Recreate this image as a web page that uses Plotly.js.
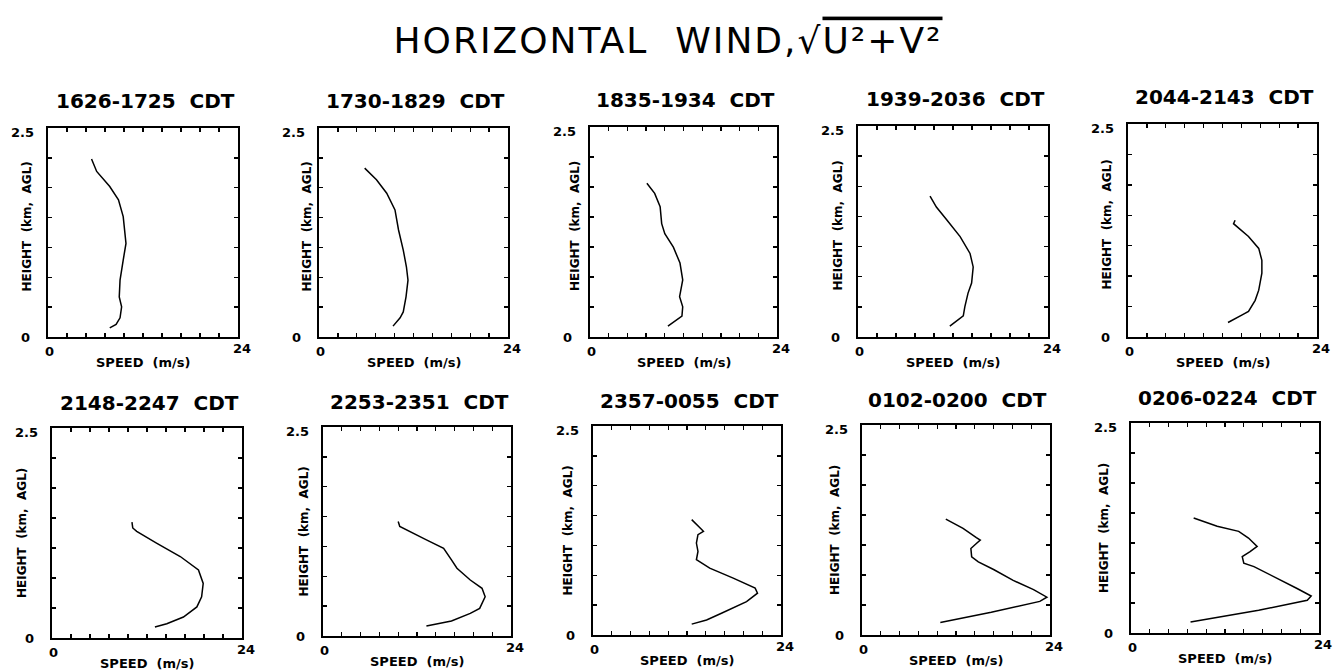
<!DOCTYPE html>
<html>
<head>
<meta charset="utf-8">
<script src="https://cdn.plot.ly/plotly-3.0.1.min.js"></script>
<style>
  html, body { margin: 0; padding: 0; background: #fff; }
  #chart { width: 1337px; height: 672px; }
</style>
</head>
<body>
<div id="chart"></div>
<script>
// Horizontal wind speed profiles, one panel per hourly period
const periods = ["1626-1725", "1730-1829", "1835-1934", "1939-2036", "2044-2143",
                 "2148-2247", "2253-2351", "2357-0055", "0102-0200", "0206-0224"];

// speed (m/s) and height (km AGL), listed from the lowest gate upward
const speed_1626 = [7.8, 8.6, 9.1, 9.3, 9.0, 9.1, 9.5, 9.85, 9.5, 8.9, 7.8, 6.15, 5.5];
const height_1626 = [0.11, 0.15, 0.23, 0.36, 0.48, 0.68, 0.92, 1.12, 1.44, 1.64, 1.80, 1.98, 2.13];

const speed_1730 = [9.4, 10.3, 10.7, 11.05, 11.3, 11.1, 10.7, 10.1, 9.65, 8.6, 7.3, 5.8];
const height_1730 = [0.13, 0.23, 0.30, 0.48, 0.68, 0.84, 1.04, 1.28, 1.52, 1.72, 1.88, 2.02];

const speed_1835 = [10.0, 11.0, 11.8, 11.9, 11.5, 11.9, 11.55, 10.7, 9.6, 9.2, 9.0, 8.3, 7.3];
const height_1835 = [0.13, 0.20, 0.25, 0.36, 0.48, 0.68, 0.88, 1.07, 1.23, 1.35, 1.55, 1.71, 1.83];

const speed_1939 = [11.6, 12.6, 13.3, 13.5, 13.9, 14.35, 14.55, 14.15, 12.9, 11.2, 9.9, 9.1];
const height_1939 = [0.13, 0.20, 0.25, 0.36, 0.52, 0.64, 0.83, 0.99, 1.19, 1.39, 1.54, 1.67];

const speed_2044 = [12.7, 13.6, 14.5, 15.3, 16.15, 16.6, 17.0, 17.0, 16.6, 15.3, 13.85, 13.4, 13.6];
const height_2044 = [0.17, 0.22, 0.26, 0.30, 0.43, 0.55, 0.75, 0.90, 1.04, 1.18, 1.29, 1.33, 1.37];

const speed_2148 = [13.0, 14.5, 16.6, 18.3, 18.9, 19.1, 18.5, 16.2, 13.2, 10.7, 10.2, 10.1];
const height_2148 = [0.13, 0.17, 0.25, 0.37, 0.49, 0.65, 0.81, 0.97, 1.13, 1.27, 1.31, 1.38];

const speed_2253 = [13.2, 16.4, 18.8, 20.0, 20.7, 20.3, 18.8, 17.1, 16.4, 15.4, 13.2, 11.1, 9.8, 9.6];
const height_2253 = [0.12, 0.18, 0.27, 0.33, 0.47, 0.57, 0.67, 0.81, 0.91, 1.05, 1.15, 1.25, 1.31, 1.37];

const speed_2357 = [12.6, 14.5, 16.4, 19.6, 21.0, 20.7, 17.9, 14.9, 13.2, 13.4, 13.2, 13.4, 14.1, 13.9, 13.0, 12.6];
const height_2357 = [0.13, 0.18, 0.26, 0.40, 0.50, 0.56, 0.68, 0.80, 0.90, 1.00, 1.10, 1.20, 1.24, 1.26, 1.34, 1.38];

const speed_0102 = [10.0, 16.5, 22.7, 23.6, 21.9, 19.3, 16.8, 14.85, 14.0, 13.9, 14.6, 15.1, 14.6, 12.9, 10.7];
const height_0102 = [0.15, 0.27, 0.40, 0.45, 0.54, 0.65, 0.78, 0.87, 0.93, 1.03, 1.09, 1.13, 1.16, 1.27, 1.38];

const speed_0206 = [7.6, 16.3, 22.5, 23.0, 21.2, 18.2, 15.7, 14.4, 14.2, 15.2, 16.1, 15.0, 13.75, 11.0, 8.0];
const height_0206 = [0.13, 0.27, 0.39, 0.44, 0.53, 0.67, 0.79, 0.83, 0.91, 0.97, 1.03, 1.13, 1.21, 1.27, 1.37];

const speedSeries = [speed_1626, speed_1730, speed_1835, speed_1939, speed_2044,
                     speed_2148, speed_2253, speed_2357, speed_0102, speed_0206];
const heightSeries = [height_1626, height_1730, height_1835, height_1939, height_2044,
                      height_2148, height_2253, height_2357, height_0102, height_0206];

// axis extents and end labels
const speedRange = [0, 24];
const heightRange = [0, 2.5];
const speedEndLabels = ["0", "24"];
const heightEndLabels = ["0", "2.5"];

// ---- page geometry (pixels) ----
const W = 1337, H = 672;
// plot frames: [left, right, top, bottom]
const frames = [
  [48, 238, 128, 337], [319, 508, 128, 337], [590, 777, 127, 337], [858, 1048, 126, 337], [1128, 1317, 124, 337],
  [52, 242, 428, 638], [323, 511, 427, 636], [593, 781, 426, 635], [862, 1050, 425, 635], [1131, 1319, 423, 633]
];
// horizontal gap between frame and the rotated height label
const yTitleGap = [21, 12, 15, 20, 22, 30, 20, 26, 27, 27];

const px = v => v / W;
const py = v => 1 - v / H;

const FONT = "DejaVu Sans";
const traces = [];
const layout = {
  width: W, height: H, autosize: false,
  margin: {l: 0, r: 0, t: 0, b: 0, pad: 0},
  paper_bgcolor: "#ffffff", plot_bgcolor: "#ffffff",
  showlegend: false,
  title: {
    text: '<span style="letter-spacing:2px">HORIZONTAL  WIND,√<span style="text-decoration:overline">U²+V²</span></span>',
    x: px(668), y: py(40), xanchor: "center", yanchor: "middle",
    font: {family: FONT, size: 36, color: "#000"}
  },
  annotations: []
};

frames.forEach((f, i) => {
  const n = i + 1;
  const xa = "xaxis" + (n === 1 ? "" : n);
  const ya = "yaxis" + (n === 1 ? "" : n);
  const xr = "x" + (n === 1 ? "" : n);
  const yr = "y" + (n === 1 ? "" : n);
  const [l, r, t, b] = f;

  traces.push({
    type: "scatter", mode: "lines",
    x: speedSeries[i], y: heightSeries[i],
    xaxis: xr, yaxis: yr,
    line: {color: "#000", width: 1.5},
    hoverinfo: "skip"
  });

  const common = {
    showgrid: false, zeroline: false, showline: true, mirror: "ticks",
    linecolor: "#000", linewidth: 2,
    ticks: "inside", ticklen: 4, tickwidth: 1.3, tickcolor: "#000",
    showticklabels: false, fixedrange: true
  };
  layout[xa] = Object.assign({}, common, {
    domain: [px(l), px(r)], range: speedRange, anchor: yr,
    tick0: 0, dtick: (speedRange[1] - speedRange[0]) / 10
  });
  layout[ya] = Object.assign({}, common, {
    domain: [py(b), py(t)], range: heightRange, anchor: xr,
    tick0: 0, dtick: (heightRange[1] - heightRange[0]) / 7
  });

  // period title
  layout.annotations.push({
    text: periods[i] + "  CDT", xref: "paper", yref: "paper",
    x: px((l + r) / 2 + 2), y: py(t - (i < 5 ? 27 : 25)),
    xanchor: "center", yanchor: "middle", showarrow: false,
    font: {family: FONT, size: 20, color: "#000", weight: "bold"}
  });
  // speed axis title
  layout.annotations.push({
    text: "SPEED  (m/s)", xref: "paper", yref: "paper",
    x: px((l + r) / 2), y: py(b + 25),
    xanchor: "center", yanchor: "middle", showarrow: false,
    font: {family: FONT, size: 13, color: "#000", weight: "bold"}
  });
  // height axis title
  layout.annotations.push({
    text: "HEIGHT  (km,  AGL)", xref: "paper", yref: "paper",
    x: px(l - yTitleGap[i]), y: py((t + b) / 2 - (i < 5 ? 6 : 0)),
    xanchor: "center", yanchor: "middle", textangle: -90, showarrow: false,
    font: {family: FONT, size: 12, color: "#000", weight: "bold"}
  });
  // speed end labels, placed on the speed scale
  speedRange.forEach((v, k) => {
    layout.annotations.push({
      text: speedEndLabels[k], xref: xr, yref: "paper",
      x: v, xshift: k === 0 ? 1 : 4, y: py(b + (k === 0 ? 14 : 11)),
      xanchor: "center", yanchor: "middle", showarrow: false,
      font: {family: FONT, size: 13, color: "#000", weight: "bold"}
    });
  });
  // height end labels, placed on the height scale
  heightRange.forEach((v, k) => {
    layout.annotations.push({
      text: heightEndLabels[k], xref: "paper", yref: yr,
      x: px(l - (k === 0 ? 16 : 12)), y: v, yshift: k === 0 ? 0 : -4,
      xanchor: "right", yanchor: "middle", showarrow: false,
      font: {family: FONT, size: 13, color: "#000", weight: "bold"}
    });
  });
});

Plotly.newPlot("chart", traces, layout, {displayModeBar: false, staticPlot: true});
</script>
</body>
</html>
